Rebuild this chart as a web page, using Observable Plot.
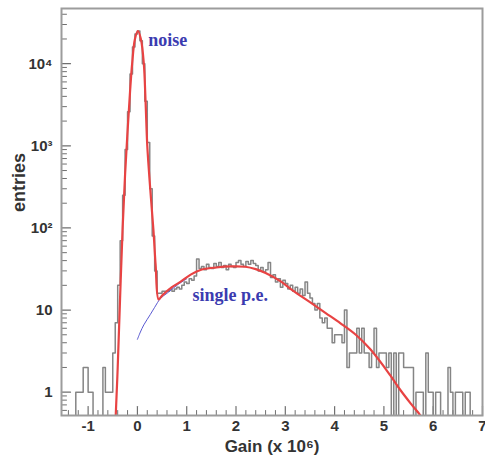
<!DOCTYPE html>
<html><head><meta charset="utf-8">
<script src="https://cdn.jsdelivr.net/npm/d3@7"></script>
<script src="https://cdn.jsdelivr.net/npm/@observablehq/plot@0.6"></script>
<style>body{margin:0;background:#fff}#chart svg{display:block}</style>
</head><body><div id="chart"></div>
<script>
// Histogram: bins of width 0.05 starting at -1.5 (Gain x 10^6)
const binStart = -1.5, binWidth = 0.05;
const counts = [
  0,0,0,0,0, 1,1,1,2,2,1,1, 0,0,0,0, 2,1,1,1,3,
  7,20,70,250,900,2600,7500,16000,23000,25000,19000,10000,3500,1100,300,80,30,16,16,
  17,17,17,18,17,18,19,18,20,22,
  21,24,23,26,42,32,34,31,36,33,
  32,37,34,38,33,35,31,36,34,33,
  38,40,36,34,39,36,40,37,35,30,
  33,29,31,38,25,27,22,24,19,23,
  21,18,20,17,19,16,18,15,22,16,
  14,12,10,12,8,7,8,6,6,4,
  5,5,5,4,10,2,3,3,3,6,
  3,6,3,3,2,3,6,2,3,3,
  3,2,3,0,3,0,3,3,2,2,
  2,2,0,1,1,1,0,3,1,1,
  0,1,1,0,0,0,2,1,0,1,
  1,1,0,1,1,0,0,0,0,0
];
// Total fit (red)
const fitX = [-0.45,-0.44,-0.40,-0.35,-0.30,-0.25,-0.20,-0.15,-0.107,-0.05,0.01,0.07,0.13,0.165,0.20,0.26,0.325,0.37,0.43,
  0.5,0.7,0.87,1.08,1.28,1.6,1.89,2.19,2.4,2.6,2.9,3.14,3.5,3.82,4.12,4.43,4.73,5.13,5.33,5.55,5.74,5.8];
const fitY = [0.4,0.52,2,15,100,450,1500,4500,10000,20000,25000,20000,10000,3500,1000,300,94,35,13.5,
  15,19,22,27,30.8,33,34,33.7,31.5,28.3,22.5,17.5,12.5,9.2,6.9,5.0,3.3,1.6,1.07,0.72,0.52,0.45];
// Single p.e. component (blue)
const peX = [0.0,0.06,0.13,0.26,0.35,0.47,0.6,0.8,1.0];
const peY = [4.4,5.4,6.6,8.8,10.8,13.9,16,20,24];

const xTicks = [-1,0,1,2,3,4,5,6,7];
const yTicks = [1,10,100,1000,10000];
const yTickLabels = ["1","10","10²","10³","10⁴"];
const xDomain = [-1.54, 7.0];
const yDomain = [0.52, 47000];

const xMinor = d3.range(-1.4, 7.001, 0.2).map(v => +v.toFixed(2)).filter(v => Math.abs(v - Math.round(v)) > 1e-6);
const yMinor = [];
for (const dec of [0.1,1,10,100,1000,10000]) for (let m = 2; m <= 9; m++) { const v = +(dec*m).toPrecision(3); if (v >= yDomain[0] && v <= yDomain[1]) yMinor.push(v); }

const hist = [];
counts.forEach((c, i) => {
  const v = c > 0 ? c : 0.05;
  const x0 = binStart + i*binWidth, x1 = x0 + binWidth;
  hist.push({x: x0, y: v}, {x: x1, y: v});
});
const fit = fitX.map((x, i) => ({x, y: fitY[i]}));
const pe = peX.map((x, i) => ({x, y: peY[i]}));

const tickShape = {draw(context, l) { context.moveTo(0, 0); context.lineTo(0, -l); }};
const tickColor = "#707070";
const font = "'Liberation Sans', Arial, sans-serif";
const serif = "'Liberation Serif', 'Times New Roman', serif";

const chart = Plot.plot({
  width: 485, height: 462,
  marginLeft: 61, marginTop: 8, marginRight: 3, marginBottom: 47,
  style: {fontFamily: font, background: "#fff"},
  x: {domain: xDomain},
  y: {type: "log", domain: yDomain},
  marks: [
    Plot.vector(yTicks, {y: d => d, frameAnchor: "left", length: 9, rotate: 90, anchor: "start", shape: tickShape, stroke: tickColor, strokeWidth: 1.2}),
    Plot.vector(yMinor, {y: d => d, frameAnchor: "left", length: 5, rotate: 90, anchor: "start", shape: tickShape, stroke: tickColor, strokeWidth: 1}),
    Plot.vector(xTicks, {x: d => d, frameAnchor: "bottom", length: 9, rotate: 0, anchor: "start", shape: tickShape, stroke: tickColor, strokeWidth: 1.2}),
    Plot.vector(xMinor, {x: d => d, frameAnchor: "bottom", length: 5, rotate: 0, anchor: "start", shape: tickShape, stroke: tickColor, strokeWidth: 1}),
    Plot.line(hist, {x: "x", y: "y", stroke: "#858585", strokeWidth: 1.5, clip: true}),
    Plot.line(pe, {x: "x", y: "y", stroke: "#5a5ad2", strokeWidth: 1, curve: "catmull-rom", clip: true}),
    Plot.line(fit, {x: "x", y: "y", stroke: "#e84343", strokeWidth: 2.2, curve: "catmull-rom", clip: true}),
    Plot.frame({stroke: "#9c9c9c", strokeWidth: 2}),
    Plot.axisY(yTicks, {tickSize: 0, tickPadding: 9, tickFormat: d => yTickLabels[yTicks.indexOf(d)], fontSize: 15, fontWeight: "bold", fill: "#333", label: null}),
    Plot.axisX(xTicks, {tickSize: 0, tickPadding: 5, tickFormat: d => String(d), fontSize: 15, fontWeight: "bold", fill: "#333", label: null}),
    Plot.text(["Gain (x 10⁶)"], {frameAnchor: "bottom", dy: 36, fontSize: 17, fontWeight: "bold", fill: "#333"}),
    Plot.text(["entries"], {frameAnchor: "left", dx: -42, rotate: -90, fontSize: 18, fontWeight: "bold", fill: "#333"}),
    Plot.text([{x: 0.22, y: 19500, t: "noise"}], {x: "x", y: "y", text: "t", textAnchor: "start", fontFamily: serif, fontWeight: "bold", fontSize: 18, fill: "#3b3bb0"}),
    Plot.text([{x: 1.115, y: 15.2, t: "single p.e."}], {x: "x", y: "y", text: "t", textAnchor: "start", fontFamily: serif, fontWeight: "bold", fontSize: 18, fill: "#3b3bb0"})
  ]
});
document.getElementById("chart").appendChild(chart);
</script>
</body></html>
